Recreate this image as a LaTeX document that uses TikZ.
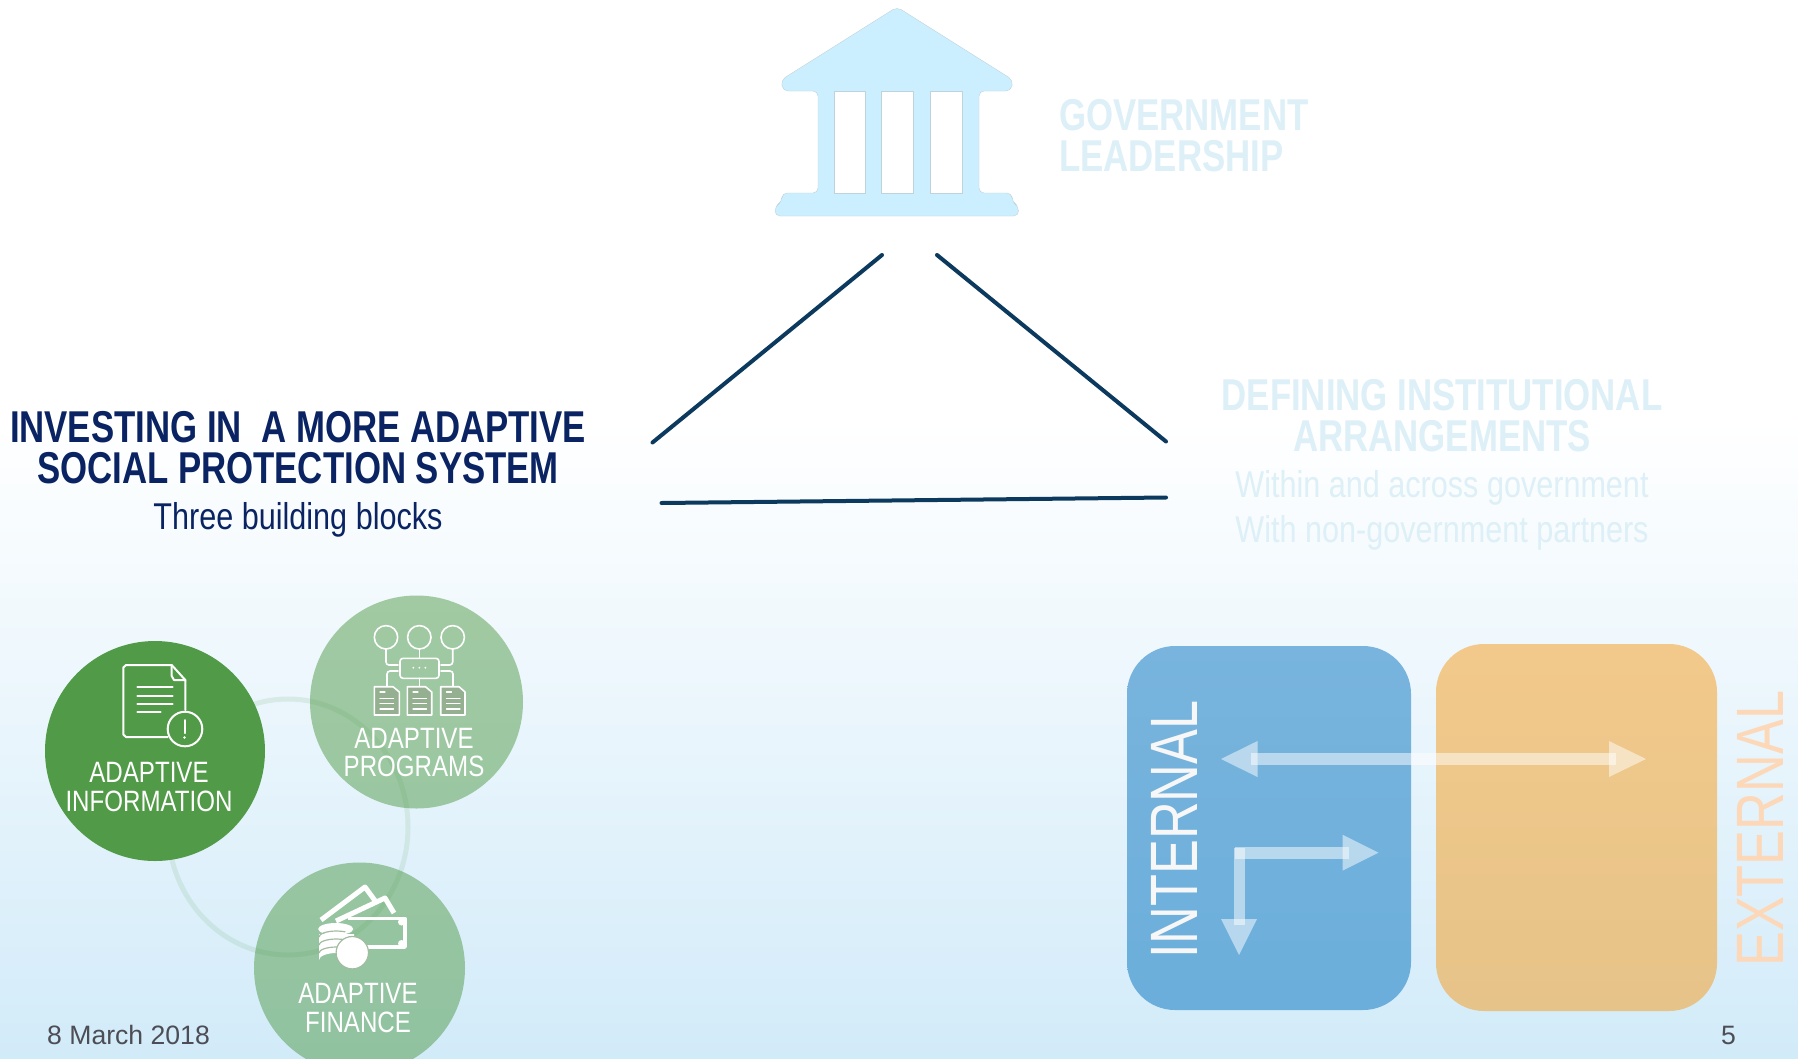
\documentclass[tikz,border=0pt]{standalone}
\usepackage{fontspec}
\setmainfont{Liberation Sans}
\newfontfamily\narrowfont[FakeStretch=.82]{Liberation Sans}
\newfontfamily\headfont[FakeStretch=.78]{Liberation Sans}
\definecolor{navy}{HTML}{0A2463}
\definecolor{linecol}{HTML}{0C3A5E}
\definecolor{pale}{HTML}{DDEFF7}
\definecolor{roofcol}{HTML}{CCEFFF}
\definecolor{roofline}{HTML}{BFD3DB}
\definecolor{leaf}{HTML}{519B48}
\definecolor{footcol}{HTML}{4D4D55}

\begin{document}
\begin{tikzpicture}[x=1pt,y=-1pt,
		head/.style={font=\headfont\bfseries\fontsize{44.6}{41}\selectfont,inner sep=0pt},
		sub/.style={font=\narrowfont\fontsize{37.3}{45}\selectfont,inner sep=0pt},
		ctext/.style={font=\narrowfont\fontsize{29.4}{28.5}\selectfont,text=white,inner sep=0pt,align=center},
		side/.style={font=\headfont\fontsize{67}{67}\selectfont,rotate=90,anchor=base west,inner sep=0pt},
		bar/.style={fill=white,opacity=.5},
		icon/.style={draw=white,line width=2pt,line cap=round,line join=round},
		thin icon/.style={icon,line width=1.6pt},
		blob/.style={fill=leaf,opacity=.5},
		stroke3/.style={linecol,line width=4pt,line cap=round},
		foot/.style={font=\fontsize{26.6}{27}\selectfont,text=footcol,inner sep=0pt}]
		\useasboundingbox (0,0) rectangle (1798,1058);
		
		% backdrop
		\fill[white] (0,0) rectangle (1798,420);
		\shade[top color=white,bottom color={rgb,255:red,210;green,235;blue,249}] (0,420) rectangle (1798,1058);
		
		% building
		\draw[roofline,fill=roofcol,rounded corners=5pt] (897,7) -- (1013,80) -- (1011,91) -- (979,91) -- (979,193) -- (1012,193) -- (1012,202) -- (1018.5,206) -- (1018.5,216) -- (775,216) -- (775,206) -- (782,202) -- (782,193) -- (818,193) -- (818,91) -- (783,91) -- (781,80) -- cycle;
		\draw[roofline,fill=white] (834,91) rectangle (865.5,193);
		\draw[roofline,fill=white] (881.5,91) rectangle (913.5,193);
		\draw[roofline,fill=white] (930.5,91) rectangle (962.5,193);
		\node[head,text=pale,anchor=west,align=left] (G) at (1059,136) {GOVERNMENT\\LEADERSHIP};
		
		% the three strokes
		\coordinate (T1) at (882,255);
		\coordinate (L1) at (652.5,442.5);
		\coordinate (T2) at (937,255);
		\coordinate (R1) at (1166,441.5);
		\coordinate (L2) at (661.5,503);
		\coordinate (R2) at (1166,497.5);
		\draw[stroke3] (T1) -- (L1);
		\draw[stroke3] (T2) -- (R1);
		\draw[stroke3] (L2) -- (R2);
		
		\node[head,text=pale,align=center] (D) at (1442,416) {DEFINING INSTITUTIONAL\\ARRANGEMENTS};
		\node[sub,text=pale,align=center] (W) at (1442,510) {Within and across government\\With non-government partners};
		
		\node[head,text=navy,align=center] (I) at (298,448) {INVESTING IN\ \ A MORE ADAPTIVE\\SOCIAL PROTECTION SYSTEM};
		\node[sub,text=navy,anchor=base] (B) at (298,529) {Three building blocks};
		
		% ring and circles
		\draw[leaf,opacity=.12,line width=5pt] (288,827) ellipse [x radius=120,y radius=128];
		\fill[leaf] (155,751) circle [radius=110];
		\fill[blob] (416.5,702) circle [radius=106.5];
		\fill[blob] (359.5,968) circle [radius=105.5];
		
		% document icon
		\draw[icon] (171.7,665) -- (126,665) -- (123.3,667.5) -- (123.3,734.5) -- (126,737) -- (167.7,737);
		\draw[icon] (171.7,665) -- (185.3,680) -- (185.3,710);
		\draw[icon] (171.7,665) -- (171.7,676) -- (174,680) -- (185.3,680);
		\draw[icon] (137.3,687.3) -- (172.7,687.3);
		\draw[icon] (137.3,695.7) -- (172.7,695.7);
		\draw[icon] (137.3,704) -- (172.7,704);
		\draw[icon] (137.3,712.3) -- (160.7,712.3);
		\draw[icon] (185,729) circle [radius=17.3];
		\draw[icon] (184.5,720) -- (184.5,733);
		\fill[white] (184.5,737.5) circle [radius=1.3];
		\node[ctext] (A1) at (149,787) {ADAPTIVE\\INFORMATION};
		
		% programs icon
		\draw[thin icon] (386,637.3) circle [radius=11.7];
		\draw[thin icon] (419.3,637.3) circle [radius=11.7];
		\draw[thin icon] (452.7,637.3) circle [radius=11.7];
		\draw[thin icon,rounded corners=3pt] (400,658.3) rectangle (439,678.3);
		\fill[white] (413.3,667.7) circle [radius=1];
		\fill[white] (419.3,667.7) circle [radius=1];
		\fill[white] (425.3,667.7) circle [radius=1];
		\draw[thin icon,rounded corners=3pt] (386,649) -- (386,665) -- (398,665);
		\draw[thin icon] (419.3,649) -- (419.3,658.3);
		\draw[thin icon,rounded corners=3pt] (452.7,649) -- (452.7,665) -- (441,665);
		\draw[thin icon,rounded corners=3pt] (398,671) -- (387,671) -- (387,686.7);
		\draw[thin icon] (419.3,678.3) -- (419.3,686.7);
		\draw[thin icon,rounded corners=3pt] (441,671) -- (453,671) -- (453,686.7);
		\draw[thin icon,fill=leaf!55!gray!70] (374.3,686.7) -- (393,686.7) -- (399.3,692) -- (399.3,715) -- (374.3,715) -- cycle;
		\draw[thin icon,fill=leaf!55!gray!70] (407.3,686.7) -- (425.5,686.7) -- (431.7,692) -- (431.7,715) -- (407.3,715) -- cycle;
		\draw[thin icon,fill=leaf!55!gray!70] (440.7,686.7) -- (459,686.7) -- (465,692) -- (465,715) -- (440.7,715) -- cycle;
		\draw[thin icon,line width=1.2pt] (380,692) -- (385,692) (380,698.5) -- (393.5,698.5) (380,703.5) -- (393.5,703.5) (380,709) -- (393.5,709);
		\draw[thin icon,line width=1.2pt] (413,692) -- (418,692) (413,698.5) -- (426.5,698.5) (413,703.5) -- (426.5,703.5) (413,709) -- (426.5,709);
		\draw[thin icon,line width=1.2pt] (446.5,692) -- (451.5,692) (446.5,698.5) -- (460,698.5) (446.5,703.5) -- (460,703.5) (446.5,709) -- (460,709);
		\node[ctext] (A2) at (414,752.5) {ADAPTIVE\\PROGRAMS};
		
		% money icon
		\draw[white,line width=5pt,line join=round] (321,920) -- (365,887) -- (376,902);
		\draw[white,line width=5pt,line join=round] (336,921) -- (385,898) -- (394,913);
		\draw[white,line width=3.5pt,line join=round] (348,918.5) -- (405,918.5) -- (405,947) -- (348,947);
		\fill[white] (401.5,922) circle [radius=3.5];
		\fill[white] (401.5,943.5) circle [radius=3.5];
		\fill[white] (319,934) -- (319,960) arc [start angle=180,end angle=360,x radius=17.5,y radius=7] -- (354,934) -- cycle;
		\fill[white] (335.7,929) ellipse [x radius=17.5,y radius=6];
		\draw[leaf!55!gray!60,line width=1.2pt] (319,937) arc [start angle=180,end angle=300,x radius=17.5,y radius=6];
		\draw[leaf!55!gray!60,line width=1.2pt] (319,945) arc [start angle=180,end angle=300,x radius=17.5,y radius=6];
		\draw[leaf!55!gray!60,line width=1.2pt] (319,953) arc [start angle=180,end angle=300,x radius=17.5,y radius=6];
		\draw[leaf!55!gray!60,line width=1.2pt,fill=white] (352.3,952.7) circle [radius=16.2];
		\node[ctext] (A3) at (358,1008) {ADAPTIVE\\FINANCE};
		
		% footer
		\node[foot,anchor=base west] (F) at (47,1044) {8 March 2018};
		\node[foot,anchor=base west] (N) at (1721,1044) {5};
		
		% boxes
		\shade[top color={rgb,255:red,120;green,180;blue,221},bottom color={rgb,255:red,107;green,174;blue,219},rounded corners=48pt] (1127,646) rectangle (1411,1010);
		\shade[top color={rgb,255:red,242;green,201;blue,138},bottom color={rgb,255:red,230;green,195;blue,137},rounded corners=48pt] (1436,644) rectangle (1717,1011);
		
		% arrows
		\fill[bar] (1251,753) rectangle (1615.5,765);
		\fill[bar] (1221,759) -- (1257.5,741) -- (1257.5,777) -- cycle;
		\fill[bar] (1646,759) -- (1609,741) -- (1609,777) -- cycle;
		\fill[bar] (1235,846.7) rectangle (1349,858.7);
		\fill[bar] (1378.5,852.7) -- (1342.5,834.7) -- (1342.5,870.7) -- cycle;
		\fill[bar] (1233.5,848) rectangle (1245,925);
		\fill[bar] (1239,955) -- (1221,919) -- (1257,919) -- cycle;
		
		\node[side,text=white!94!gray] (IN) at (1197,959) {INTERNAL};
		\node[side,text={rgb,255:red,253;green,216;blue,184}] (EX) at (1783.5,967) {EXTERNAL};
	\end{tikzpicture}
\end{document}
